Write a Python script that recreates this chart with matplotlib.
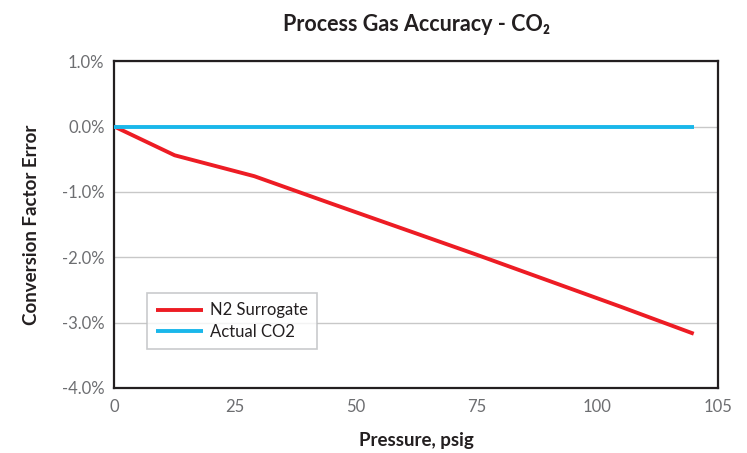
import matplotlib
matplotlib.use("Agg")
import matplotlib.pyplot as plt
from matplotlib.ticker import FuncFormatter

plt.rcParams['font.family'] = ['Lato', 'DejaVu Sans']

# Data
pressure = [0, 12.5, 29, 45, 60, 75, 90, 105, 120]
n2_surrogate = [0.0, -0.44, -0.76, -1.18, -1.57, -1.96, -2.36, -2.76, -3.17]
actual_co2 = [0.0, 0.0, 0.0, 0.0, 0.0, 0.0, 0.0, 0.0, 0.0]

x_ticks = [0, 25, 50, 75, 100, 125]
x_tick_labels = ['0', '25', '50', '75', '100', '105']
y_ticks = [1.0, 0.0, -1.0, -2.0, -3.0, -4.0]


def create_plot(output_path):
    fig = plt.figure(figsize=(7.47, 4.53), dpi=100)
    ax = fig.add_axes([0.153, 0.1435, 0.808, 0.7215])

    ax.plot(pressure, n2_surrogate, color='#ed1c24', linewidth=2.8,
            label='N2 Surrogate', solid_capstyle='butt', zorder=3)
    ax.plot(pressure, actual_co2, color='#1ab7ea', linewidth=2.8,
            label='Actual CO2', solid_capstyle='butt', zorder=3)

    ax.set_xlim(0, 125)
    ax.set_ylim(-4.0, 1.0)
    ax.set_xticks(x_ticks)
    ax.set_xticklabels(x_tick_labels)
    ax.set_yticks(y_ticks)
    ax.yaxis.set_major_formatter(FuncFormatter(lambda v, p: f'{v:.1f}%'))

    ax.yaxis.grid(True, color='#c8c8c8', linewidth=1.0)
    ax.set_axisbelow(True)
    for side in ['left', 'right', 'top', 'bottom']:
        ax.spines[side].set_color('#231f20')
        ax.spines[side].set_linewidth(1.6)

    ax.tick_params(axis='both', length=0, labelsize=12, colors='#6d6e71',
                   pad=8)
    ax.tick_params(axis='y', pad=7)

    ax.set_title('Process Gas Accuracy - CO₂', fontsize=15.5,
                 fontweight='bold', color='#231f20', pad=22)
    ax.set_xlabel('Pressure, psig', fontsize=13.5, fontweight='bold',
                  color='#231f20', labelpad=12)
    ax.set_ylabel('Conversion Factor Error', fontsize=13.5, fontweight='bold',
                  color='#231f20', labelpad=16)

    leg = ax.legend(loc='upper left', bbox_to_anchor=(0.054, 0.29),
                    frameon=True, fancybox=False, fontsize=12,
                    handlelength=2.8, handletextpad=0.45, borderpad=0.55,
                    labelspacing=0.35, borderaxespad=0)
    leg.get_frame().set_edgecolor('#bcbec0')
    leg.get_frame().set_linewidth(1.2)
    for text in leg.get_texts():
        text.set_color('#231f20')

    fig.savefig(output_path, dpi=100)


if __name__ == "__main__":
    create_plot('out.png')
